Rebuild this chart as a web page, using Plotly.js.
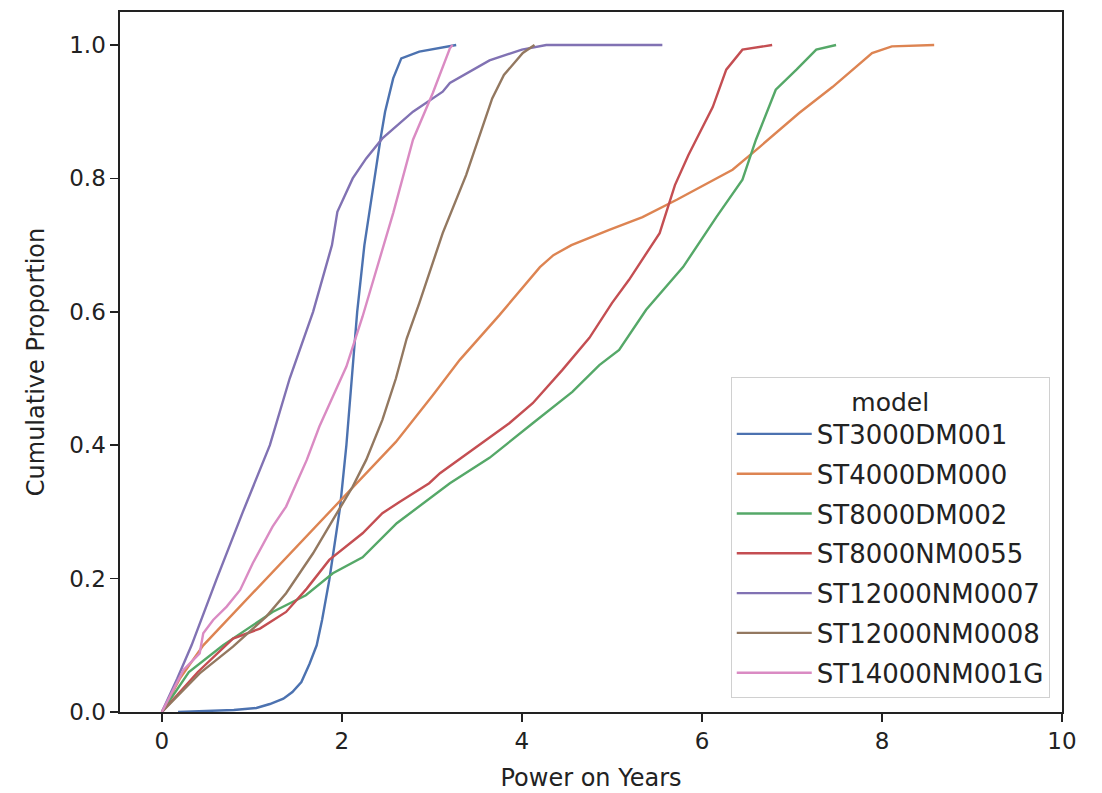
<!DOCTYPE html>
<html>
<head>
<meta charset="utf-8">
<script src="https://cdn.plot.ly/plotly-3.0.1.min.js"></script>
<style>html,body{margin:0;padding:0;background:#fff;}#chart{width:1102px;height:793px;}</style>
</head>
<body>
<div id="chart"></div>
<script>
// Series names (legend order)
const models = ["ST3000DM001","ST4000DM000","ST8000DM002","ST8000NM0055","ST12000NM0007","ST12000NM0008","ST14000NM001G"];
const colors = ["#4c72b0","#dd8452","#55a868","#c44e52","#8172b3","#937860","#da8bc3"];

// ECDF points (Power on Years, Cumulative Proportion)
const st3000_x = [0.18,0.5,0.8,1.05,1.2,1.35,1.45,1.55,1.64,1.72,1.78,1.86,1.92,1.98,2.05,2.11,2.17,2.25,2.36,2.43,2.48,2.57,2.66,2.86,3.27];
const st3000_y = [0.0,0.001,0.003,0.006,0.012,0.02,0.03,0.045,0.072,0.1,0.138,0.198,0.25,0.307,0.4,0.5,0.6,0.7,0.8,0.86,0.9,0.95,0.98,0.99,1.0];

const st4000_x = [0,0.2,0.46,1.16,1.86,2.6,3.01,3.31,3.75,4.2,4.35,4.55,4.97,5.34,5.72,6.34,6.64,7.08,7.45,7.89,8.11,8.58];
const st4000_y = [0,0.05,0.1,0.2,0.3,0.405,0.475,0.528,0.595,0.667,0.685,0.7,0.723,0.742,0.768,0.813,0.847,0.898,0.937,0.988,0.998,1.0];

const st8000dm_x = [0,0.3,0.68,1.23,1.6,1.9,2.23,2.61,3.2,3.64,4.12,4.56,4.86,5.08,5.38,5.67,5.79,6.16,6.45,6.6,6.82,7.05,7.27,7.49];
const st8000dm_y = [0,0.06,0.1,0.15,0.175,0.208,0.232,0.283,0.343,0.381,0.433,0.48,0.52,0.543,0.603,0.648,0.667,0.742,0.798,0.858,0.933,0.963,0.993,1.0];

const st8000nm_x = [0,0.4,0.79,1.09,1.38,1.61,1.86,2.23,2.45,2.64,2.97,3.09,3.86,4.12,4.45,4.75,5.0,5.19,5.53,5.7,5.85,5.98,6.12,6.27,6.45,6.78];
const st8000nm_y = [0,0.06,0.11,0.125,0.15,0.185,0.228,0.268,0.298,0.315,0.343,0.358,0.433,0.463,0.513,0.561,0.613,0.648,0.718,0.79,0.835,0.87,0.907,0.963,0.993,1.0];

const st12007_x = [0,0.17,0.33,0.61,0.9,1.2,1.42,1.68,1.89,1.95,2.12,2.27,2.45,2.79,3.12,3.2,3.64,4.0,4.27,5.56];
const st12007_y = [0,0.05,0.1,0.2,0.3,0.4,0.5,0.6,0.7,0.75,0.8,0.83,0.86,0.9,0.93,0.943,0.977,0.993,1.0,1.0];

const st12008_x = [0,0.42,0.79,1.16,1.38,1.68,1.9,2.12,2.27,2.45,2.6,2.72,2.86,3.12,3.38,3.56,3.67,3.8,4.01,4.14];
const st12008_y = [0,0.058,0.098,0.143,0.178,0.238,0.288,0.338,0.378,0.438,0.5,0.56,0.613,0.718,0.805,0.877,0.92,0.955,0.988,1.0];

const st14000_x = [0,0.24,0.42,0.46,0.57,0.72,0.87,1.01,1.23,1.38,1.61,1.75,1.9,2.05,2.23,2.57,2.79,3.01,3.2,3.23];
const st14000_y = [0,0.063,0.088,0.118,0.138,0.158,0.183,0.223,0.278,0.308,0.378,0.428,0.473,0.518,0.593,0.748,0.858,0.928,0.995,1.0];

const xs = [st3000_x, st4000_x, st8000dm_x, st8000nm_x, st12007_x, st12008_x, st14000_x];
const ys = [st3000_y, st4000_y, st8000dm_y, st8000nm_y, st12007_y, st12008_y, st14000_y];

const xTicks = [0,2,4,6,8,10];
const yTicks = [0,0.2,0.4,0.6,0.8,1.0];

const FONT = "DejaVu Sans, sans-serif";
const traces = models.map((m,i)=>({
  type:"scatter", mode:"lines", name:m, legendgroup:m,
  x:xs[i], y:ys[i],
  line:{color:colors[i], width:2.4}
}));

const axisCommon = {
  showline:true, mirror:true, linecolor:"#222", linewidth:1.6,
  ticks:"outside", ticklen:8, tickwidth:1.6, tickcolor:"#222",
  showgrid:false, zeroline:false,
  tickfont:{family:FONT, size:23, color:"#222"}
};

const layout = {
  width:1102, height:793,
  margin:{l:120, r:40, t:12, b:81},
  paper_bgcolor:"#fff", plot_bgcolor:"#fff",
  font:{family:FONT, color:"#222"},
  showlegend:true,
  xaxis:Object.assign({}, axisCommon, {
    range:[-0.465,10], tickvals:xTicks, ticktext:xTicks.map(String),
    title:{text:"Power on Years", font:{family:FONT, size:24, color:"#222"}, standoff:16}
  }),
  yaxis:Object.assign({}, axisCommon, {
    range:[0,1.0495], tickvals:yTicks, ticktext:yTicks.map(v=>v.toFixed(1)),
    title:{text:"Cumulative Proportion", font:{family:FONT, size:24, color:"#222"}, standoff:18}
  }),
  legend:{
    x:0.987, y:0.02, xanchor:"right", yanchor:"bottom",
    bgcolor:"rgba(255,255,255,0.85)", bordercolor:"#d0d0d0", borderwidth:1,
    font:{family:FONT, size:26, color:"#222"},
    title:{text:"model", side:"top center", font:{family:FONT, size:25, color:"#222"}},
    traceorder:"grouped", tracegroupgap:3, itemwidth:75
  }
};

Plotly.newPlot("chart", traces, layout, {displayModeBar:false, staticPlot:true});
</script>
</body>
</html>
